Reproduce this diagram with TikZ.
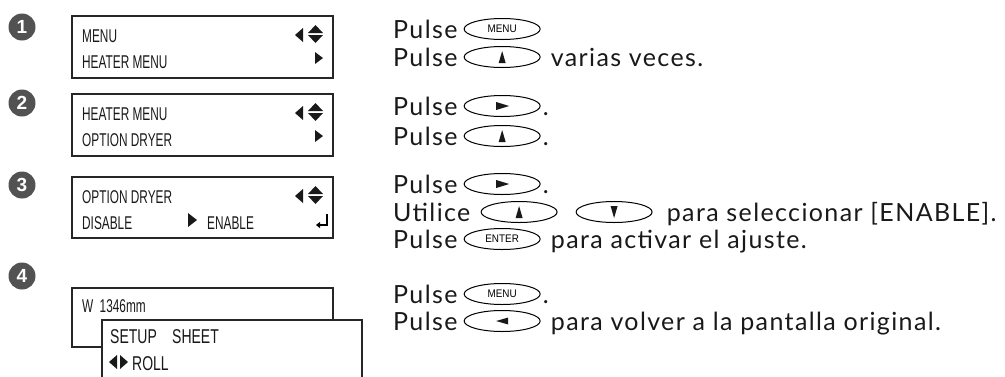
\documentclass[tikz,border=0pt]{standalone}
\usepackage{fontspec}
\setmainfont{Lato}[LetterSpace=5.5]
\newfontfamily\lcdfont[FakeStretch=0.64]{Liberation Sans}
\newfontfamily\lcdbig[FakeStretch=0.7]{Liberation Sans}
\newfontfamily\btnfont[FakeStretch=0.9]{Liberation Sans}
\newfontfamily\numfont{Liberation Sans}
\usetikzlibrary{shapes.geometric,calc,arrows.meta}
\begin{document}
\begin{tikzpicture}[x=1pt,y=-1pt,
  lcd/.style={draw=black!85,line width=1.6pt},
  lcdtxt/.style={font=\lcdfont\fontsize{18.5}{18.5}\selectfont,inner sep=0,anchor=base west,text=black!90},
  lcdtxtb/.style={font=\lcdbig\fontsize{20}{20}\selectfont,inner sep=0,anchor=base west,text=black!90},
  num/.style={circle,fill=black!68,text=white,font=\numfont\bfseries\fontsize{19}{19}\selectfont,minimum size=27,inner sep=0},
  txt/.style={font=\fontsize{25}{25}\selectfont,inner sep=0,anchor=base west,text=black!90},
  btn/.style={ellipse,draw=black,line width=1pt,minimum width=76,minimum height=21,inner sep=0,anchor=west,font=\btnfont\fontsize{11}{11}\selectfont},
  tri/.style={fill=black!90},
  ret/.style={line width=1.2pt,-{Triangle[length=4pt,width=6pt]}}]
\useasboundingbox (0,0) rectangle (1005,376);

% step numbers
\node[num] (n1) at (22,27) {1};
\node[num] (n2) at (22,103) {2};
\node[num] (n3) at (22,185) {3};
\node[num] (n4) at (22,276) {4};

% ---- display 1 (top 16)
\draw[lcd] (72,16) rectangle (333,78);
\node[lcdtxt] (d1a) at (82,42) {MENU};
\node[lcdtxt] (d1b) at (82,68) {HEATER MENU};
\fill[tri] (303,28) -- (303,42) -- (295,35) -- cycle;
\fill[tri] (308,33) -- (323,33) -- (315.5,25) -- cycle;
\fill[tri] (308,35) -- (323,35) -- (315.5,43) -- cycle;
\fill[tri] (315,52) -- (315,64) -- (323,58) -- cycle;

% ---- display 2 (top 94)
\draw[lcd] (72,94) rectangle (333,156);
\node[lcdtxt] (d2a) at (82,120) {HEATER MENU};
\node[lcdtxt] (d2b) at (82,146) {OPTION DRYER};
\fill[tri] (303,106) -- (303,120) -- (295,113) -- cycle;
\fill[tri] (308,111) -- (323,111) -- (315.5,103) -- cycle;
\fill[tri] (308,113) -- (323,113) -- (315.5,121) -- cycle;
\fill[tri] (315,130) -- (315,142) -- (323,136) -- cycle;

% ---- display 3 (top 177)
\draw[lcd] (72,177) rectangle (333,238);
\node[lcdtxt] (d3a) at (82,203) {OPTION DRYER};
\node[lcdtxt] (d3b) at (82,229) {DISABLE};
\fill[tri] (188,213) -- (188,227) -- (197,220) -- cycle;
\node[lcdtxt] (d3c) at (207,229) {ENABLE};
\fill[tri] (303,189) -- (303,203) -- (295,196) -- cycle;
\fill[tri] (308,194) -- (323,194) -- (315.5,186) -- cycle;
\fill[tri] (308,196) -- (323,196) -- (315.5,204) -- cycle;
\draw[ret] (327,214) -- (327,225) -- (316,225);

% ---- display 4
\draw[lcd] (72,288) rectangle (333,347);
\node[lcdtxt] (d4a) at (82,312) {W\, 1346mm};
\fill[white] (102,320) rectangle (362,380);
\draw[lcd] (102,380) -- (102,320) -- (362,320) -- (362,380);
\node[lcdtxtb] (d4b) at (110,343) {SETUP};
\node[lcdtxtb] (d4e) at (172,343) {SHEET};
\fill[tri] (117,355) -- (117,369) -- (109,362) -- cycle;
\fill[tri] (120,355) -- (120,369) -- (128,362) -- cycle;
\node[lcdtxtb] (d4c) at (132,370) {ROLL};

% ---- instructions
\node[txt] (p1) at (393,38) {Pulse};
\node[btn] (b1) at ($(p1.base east)+(6,-9)$) {MENU};
\node[txt] (p2) at (393,66) {Pulse};
\node[btn] (b2) at ($(p2.base east)+(6,-9)$) {};
\fill[tri,shift={(b2.center)}] (-3.5,6) -- (3.5,6) -- (0,-6) -- cycle;
\node[txt] (t2) at ($(b2.east)+(10,9)$) {varias veces.};
\node[txt] (p3) at (393,115) {Pulse};
\node[btn] (b3) at ($(p3.base east)+(6,-9)$) {};
\fill[tri,shift={(b3.center)}] (-6,-4) -- (-6,4) -- (7,0) -- cycle;
\node[txt] (t3) at ($(b3.east)+(2,9)$) {.};
\node[txt] (p4) at (393,145) {Pulse};
\node[btn] (b4) at ($(p4.base east)+(6,-9)$) {};
\fill[tri,shift={(b4.center)}] (-3.5,6) -- (3.5,6) -- (0,-6) -- cycle;
\node[txt] (t4) at ($(b4.east)+(2,9)$) {.};
\node[txt] (p5) at (393,193) {Pulse};
\node[btn] (b5) at ($(p5.base east)+(6,-9)$) {};
\fill[tri,shift={(b5.center)}] (-6,-4) -- (-6,4) -- (7,0) -- cycle;
\node[txt] (t5) at ($(b5.east)+(2,9)$) {.};
\node[txt] (p6) at (393,221) {Utilice};
\node[btn] (b6) at ($(p6.base east)+(10,-9)$) {};
\fill[tri,shift={(b6.center)}] (-3.5,6) -- (3.5,6) -- (0,-6) -- cycle;
\node[btn] (b6b) at ($(b6.east)+(18,0)$) {};
\fill[tri,shift={(b6b.center)}] (-3.5,-6) -- (3.5,-6) -- (0,6) -- cycle;
\node[txt] (t6) at ($(b6b.east)+(14,9)$) {para seleccionar [ENABLE].};
\node[txt] (p7) at (393,248) {Pulse};
\node[btn] (b7) at ($(p7.base east)+(6,-9)$) {ENTER};
\node[txt] (t7) at ($(b7.east)+(10,9)$) {para activar el ajuste.};
\node[txt] (p8) at (393,303) {Pulse};
\node[btn] (b8) at ($(p8.base east)+(6,-9)$) {MENU};
\node[txt] (t8) at ($(b8.east)+(2,9)$) {.};
\node[txt] (p9) at (393,330) {Pulse};
\node[btn] (b9) at ($(p9.base east)+(6,-9)$) {};
\fill[tri,shift={(b9.center)}] (6,-3.5) -- (6,3.5) -- (-6,0) -- cycle;
\node[txt] (t9) at ($(b9.east)+(10,9)$) {para volver a la pantalla original.};
\end{tikzpicture}
\end{document}
